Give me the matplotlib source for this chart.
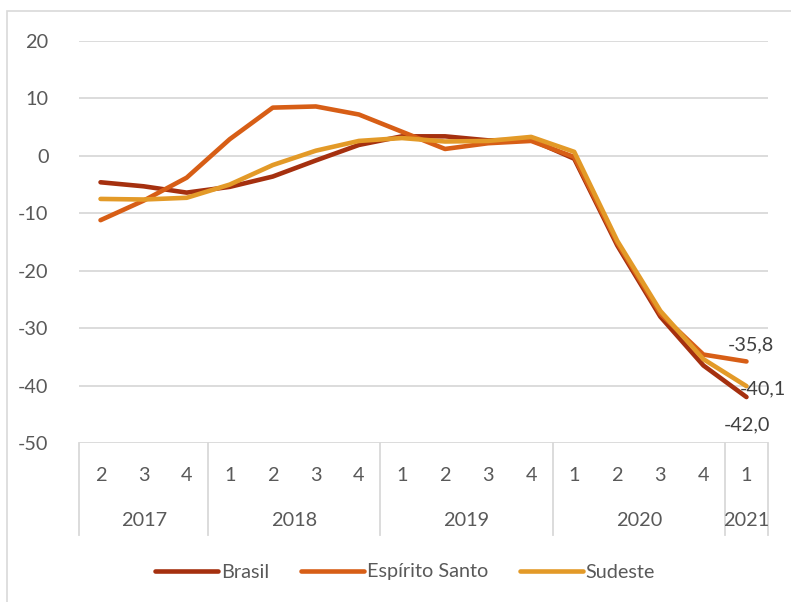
import matplotlib
matplotlib.use("Agg")
import matplotlib.pyplot as plt
from matplotlib.lines import Line2D
from matplotlib.patches import Rectangle
import matplotlib.transforms as mtransforms

quarters = ["2", "3", "4", "1", "2", "3", "4", "1", "2", "3", "4", "1", "2", "3", "4", "1"]
years = ["2017", "2018", "2019", "2020", "2021"]
year_counts = [3, 4, 4, 4, 1]

brasil = [-4.6, -5.3, -6.4, -5.4, -3.6, -0.8, 1.9, 3.4, 3.4, 2.7, 2.8, -0.5, -15.6, -28.0, -36.5, -42.0]
espirito_santo = [-11.2, -7.8, -3.8, 2.9, 8.4, 8.6, 7.2, 4.2, 1.2, 2.2, 2.6, -0.2, -15.2, -27.5, -34.6, -35.8]
sudeste = [-7.5, -7.6, -7.3, -5.0, -1.6, 0.9, 2.6, 3.1, 2.5, 2.6, 3.3, 0.7, -14.8, -27.0, -35.4, -40.1]

series = [("Brasil", brasil, "#A5300F"),
          ("Espírito Santo", espirito_santo, "#D75E16"),
          ("Sudeste", sudeste, "#E39A28")]

plt.rcParams['font.family'] = ['Lato', 'DejaVu Sans']
txt = "#595959"
grid_c = "#D9D9D9"
fs = 14.3

W, H = 791, 602
fig = plt.figure(figsize=(W / 100, H / 100), dpi=100)

# outer chart frame
fig.patches.append(Rectangle((7 / W, -0.1), 1.2, (H - 11) / H + 0.1, transform=fig.transFigure,
                             fill=False, edgecolor=grid_c, linewidth=1.2))

ax = fig.add_axes([79 / W, (H - 443) / H, (768 - 79) / W, (443 - 41) / H])
x = list(range(len(quarters)))
for name, vals, col in series:
    ax.plot(x, vals, color=col, linewidth=3.3, solid_capstyle='round', solid_joinstyle='round', label=name, zorder=3)

ax.set_xlim(-0.5, len(quarters) - 0.5)
ax.set_ylim(-50, 20)
ax.set_yticks(range(-50, 21, 10))
ax.set_yticklabels([str(v) for v in range(-50, 21, 10)])
ax.tick_params(axis='y', length=0, pad=22, labelsize=fs, labelcolor=txt)
for v in range(-40, 21, 10):
    ax.axhline(v, color=grid_c, linewidth=1.3, zorder=1)
for s in ax.spines.values():
    s.set_visible(False)

# category axis
ax.set_xticks(x)
ax.set_xticklabels(quarters)
ax.tick_params(axis='x', length=0, pad=17, labelsize=fs, labelcolor=txt)
ax.axhline(-50, color=grid_c, linewidth=1.3, zorder=1)
trans = mtransforms.blended_transform_factory(ax.transData, ax.transAxes)
axis_h = 443 - 41
sep_bottom = -(535 - 443) / axis_h
year_y = -(520 - 443) / axis_h
bounds = [-0.5]
for c in year_counts:
    bounds.append(bounds[-1] + c)
for b in bounds:
    ax.plot([b, b], [0, sep_bottom], transform=trans, color=grid_c, linewidth=1.3, clip_on=False)
for i, yr in enumerate(years):
    ax.text((bounds[i] + bounds[i + 1]) / 2, year_y, yr, transform=trans, ha='center', va='center',
            fontsize=fs, color=txt)

# data labels
last = len(quarters) - 1
ax.annotate(f"{espirito_santo[-1]:.1f}".replace('.', ','), (last, espirito_santo[-1]), xytext=(3, 6),
            textcoords='offset points', ha='center', va='bottom', fontsize=fs, color="#404040",
            annotation_clip=False)
ax.annotate(f"{sudeste[-1]:.1f}".replace('.', ','), (last, sudeste[-1]), xytext=(-5, -2),
            textcoords='offset points', ha='left', va='center', fontsize=fs, color="#404040",
            annotation_clip=False)
ax.annotate(f"{brasil[-1]:.1f}".replace('.', ','), (last, brasil[-1]), xytext=(0, -14),
            textcoords='offset points', ha='center', va='top', fontsize=fs, color="#404040",
            annotation_clip=False)

handles = [Line2D([], [], color=c, linewidth=3.3, solid_capstyle='round') for _, _, c in series]
fig.legend(handles, [n for n, _, _ in series], loc='center', bbox_to_anchor=(0.512, (H - 572) / H),
           ncol=3, frameon=False, fontsize=fs, handlelength=3.2, handletextpad=0.12,
           columnspacing=1.6, labelcolor=txt)

fig.savefig("out.png", dpi=100)
